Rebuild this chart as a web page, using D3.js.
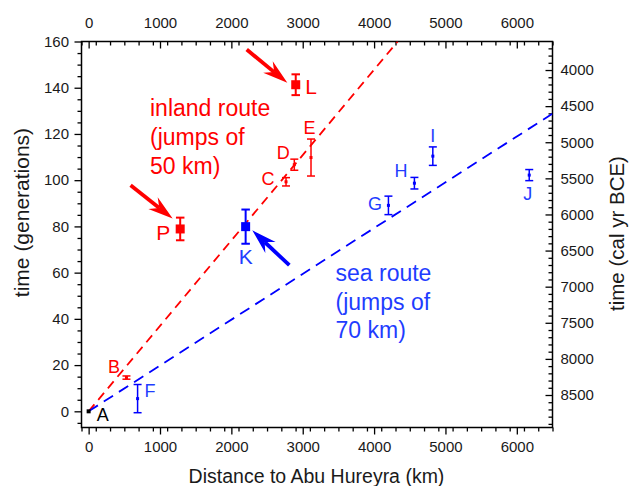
<!DOCTYPE html>
<html><head><meta charset="utf-8">
<script src="https://cdn.jsdelivr.net/npm/d3@7"></script>
<style>
html,body{margin:0;padding:0;background:#fff;}
svg{display:block;font-family:"Liberation Sans",Arial,Helvetica,sans-serif;}
</style>
</head><body>
<svg id="chart" width="629" height="486"></svg>
<script>
// ---- data ----
const kmTicks = [0, 1000, 2000, 3000, 4000, 5000, 6000];
const genTicks = [0, 20, 40, 60, 80, 100, 120, 140, 160];
const calTicks = [4000, 4500, 5000, 5500, 6000, 6500, 7000, 7500, 8000, 8500];

// origin site (Abu Hureyra)
const originLabel = ["A"];
const originKm = [0];
const originGen = [0];

// sites along the inland route
const inlandLabels = ["B", "C", "D", "E"];
const inlandKm = [530, 2766, 2882, 3116];
const inlandGen = [14.6, 99.3, 106.7, 109.8];
const inlandErr = [0.7, 1.8, 2.4, 8.0];

// sites along the sea route
const seaLabels = ["F", "G", "H", "I", "J"];
const seaKm = [686, 4201, 4565, 4823, 6174];
const seaGen = [5.5, 89.1, 98.7, 110.4, 102.2];
const seaErr = [6.1, 4.0, 2.5, 4.0, 2.4];

// highlighted sites
const keyLabels = ["L", "P", "K"];
const keyRoute = ["inland", "inland", "sea"];
const keyKm = [2902, 1283, 2200];
const keyGen = [141.3, 78.9, 79.9];
const keyErr = [4.5, 4.9, 7.4];

// front-speed lines
const inlandLineKm = [0, 4330];
const inlandLineGen = [0, 160];
const seaLineKm = [0, 6500];
const seaLineGen = [0, 128.8];

// pointer arrows (tail -> tip), in km / generations
const arrowRoute = ["inland", "inland", "sea"];
const arrowTailKm = [2215, 588, 2812];
const arrowTailGen = [156.5, 97.8, 63.2];
const arrowTipKm = [2784, 1177, 2293];
const arrowTipGen = [142.1, 83.4, 78.3];

// ---- layout / style ----
const RED = "#ff0000", BLUE = "#0000ff", BLUE_TXT = "#1f3dff";
const colorOf = r => r === "inland" ? RED : BLUE;
const plotL = 81.5, plotR = 552.5, plotT = 41.5, plotB = 427.5;

const svg = d3.select("#chart");
const x = d3.scaleLinear().domain([-100, 6500]).range([plotL, plotR]);
const y = d3.scaleLinear().domain([-7, 160]).range([plotB, plotT]);
const yCal = d3.scaleLinear().domain([8950, 3605]).range([plotB, plotT]);

svg.append("defs").append("clipPath").attr("id", "plot")
  .append("rect").attr("x", plotL).attr("y", plotT)
  .attr("width", plotR - plotL).attr("height", plotB - plotT);

// ---- axes ----
function styleAxis(g) {
  g.select(".domain").remove();
  g.selectAll("line").attr("stroke", "#000").attr("stroke-width", 1.3);
  g.selectAll("text").attr("fill", "#1a1a1a").attr("font-size", 15)
    .attr("font-family", "'Liberation Sans',Arial,sans-serif");
}
const kmMinor = d3.range(-100, 6501, 200).filter(v => v % 1000 !== 0);
const genMinor = d3.range(-5, 161, 5).filter(v => v % 20 !== 0);
const calMinor = d3.range(3700, 8951, 100).filter(v => v % 500 !== 0);

// bottom
svg.append("g").attr("transform", `translate(0,${plotB})`)
  .call(d3.axisBottom(x).tickValues(kmTicks).tickSize(7).tickPadding(7).tickFormat(d3.format("d")))
  .call(styleAxis);
svg.append("g").attr("transform", `translate(0,${plotB})`)
  .call(d3.axisBottom(x).tickValues(kmMinor).tickSize(4).tickFormat(""))
  .call(styleAxis);
// top (ticks inward)
svg.append("g").attr("transform", `translate(0,${plotT})`)
  .call(d3.axisTop(x).tickValues(kmTicks).tickSizeInner(-7).tickSizeOuter(0).tickPadding(13.2).tickFormat(d3.format("d")))
  .call(styleAxis);
svg.append("g").attr("transform", `translate(0,${plotT})`)
  .call(d3.axisTop(x).tickValues(kmMinor).tickSizeInner(-4).tickSizeOuter(0).tickFormat(""))
  .call(styleAxis);
// left
svg.append("g").attr("transform", `translate(${plotL},0)`)
  .call(d3.axisLeft(y).tickValues(genTicks).tickSize(7).tickPadding(5.5))
  .call(styleAxis);
svg.append("g").attr("transform", `translate(${plotL},0)`)
  .call(d3.axisLeft(y).tickValues(genMinor).tickSize(4).tickFormat(""))
  .call(styleAxis);
// right (ticks inward)
svg.append("g").attr("transform", `translate(${plotR},0)`)
  .call(d3.axisRight(yCal).tickValues(calTicks).tickSizeInner(-7).tickSizeOuter(0).tickPadding(8).tickFormat(d3.format("d")))
  .call(styleAxis);
svg.append("g").attr("transform", `translate(${plotR},0)`)
  .call(d3.axisRight(yCal).tickValues(calMinor).tickSizeInner(-4).tickSizeOuter(0).tickFormat(""))
  .call(styleAxis);

// frame
svg.append("rect").attr("x", plotL).attr("y", plotT)
  .attr("width", plotR - plotL).attr("height", plotB - plotT)
  .attr("fill", "none").attr("stroke", "#000").attr("stroke-width", 1.5);

// axis titles
svg.append("text").attr("x", 316.5).attr("y", 482.5).attr("text-anchor", "middle")
  .attr("font-size", 19.5).attr("fill", "#1a1a1a").text("Distance to Abu Hureyra (km)");
svg.append("text").attr("transform", "translate(28.5,212.5) rotate(-90)").attr("text-anchor", "middle")
  .attr("font-size", 21).attr("fill", "#1a1a1a").text("time (generations)");
svg.append("text").attr("transform", "translate(623.5,233.5) rotate(-90)").attr("text-anchor", "middle")
  .attr("font-size", 20.5).attr("fill", "#1a1a1a").text("time (cal yr BCE)");

// ---- dashed front lines ----
const plot = svg.append("g").attr("clip-path", "url(#plot)");
const line = d3.line().x(d => x(d[0])).y(d => y(d[1]));
plot.append("path").datum(d3.zip(inlandLineKm, inlandLineGen)).attr("d", line)
  .attr("fill", "none").attr("stroke", RED).attr("stroke-width", 1.8).attr("stroke-dasharray", "9,6");
plot.append("path").datum(d3.zip(seaLineKm, seaLineGen)).attr("d", line)
  .attr("fill", "none").attr("stroke", BLUE).attr("stroke-width", 1.8).attr("stroke-dasharray", "11,7");

// ---- error bars + markers ----
function errBars(km, gen, err, color, cap, sw, msize) {
  const g = svg.append("g");
  km.forEach((k, i) => {
    const cx = x(k), y0 = y(gen[i] - err[i]), y1 = y(gen[i] + err[i]);
    g.append("line").attr("x1", cx).attr("x2", cx).attr("y1", y0).attr("y2", y1)
      .attr("stroke", color).attr("stroke-width", sw);
    [y0, y1].forEach(yy => g.append("line").attr("x1", cx - cap / 2).attr("x2", cx + cap / 2)
      .attr("y1", yy).attr("y2", yy).attr("stroke", color).attr("stroke-width", sw));
    g.append("rect").attr("x", cx - msize / 2).attr("y", y(gen[i]) - msize / 2)
      .attr("width", msize).attr("height", msize).attr("fill", color);
  });
}
errBars(inlandKm, inlandGen, inlandErr, RED, 8, 1.5, 3);
errBars(seaKm, seaGen, seaErr, BLUE, 8, 1.5, 3);
keyKm.forEach((k, i) => errBars([k], [keyGen[i]], [keyErr[i]], colorOf(keyRoute[i]), 8.5, 2, 9));
// origin
svg.append("rect").attr("x", x(originKm[0]) - 2).attr("y", y(originGen[0]) - 2)
  .attr("width", 4).attr("height", 4).attr("fill", "#000");

// ---- arrows ----
function arrow(x0, y0, x1, y1, color) {
  const dx = x1 - x0, dy = y1 - y0, len = Math.hypot(dx, dy);
  const ux = dx / len, uy = dy / len, nx = -uy, ny = ux;
  const L = 25, W = 7.5, N = 17;
  svg.append("line").attr("x1", x0).attr("y1", y0)
    .attr("x2", x1 - ux * N).attr("y2", y1 - uy * N)
    .attr("stroke", color).attr("stroke-width", 3.8);
  const pts = [
    [x1, y1],
    [x1 - ux * L + nx * W, y1 - uy * L + ny * W],
    [x1 - ux * N, y1 - uy * N],
    [x1 - ux * L - nx * W, y1 - uy * L - ny * W]
  ];
  svg.append("path").attr("d", "M" + pts.map(p => p.join(",")).join("L") + "Z").attr("fill", color);
}
arrowRoute.forEach((r, i) => arrow(x(arrowTailKm[i]), y(arrowTailGen[i]),
  x(arrowTipKm[i]), y(arrowTipGen[i]), colorOf(r)));

// ---- point labels (offsets in px from the marker centre) ----
const labelOffsets = {
  A: [8, 9.7, "start", 18], B: [-18.5, -4.6, "start", 18], C: [-24.5, 3.5, "start", 18],
  D: [-17.5, -6, "start", 18], E: [-7.5, -24, "start", 18], F: [7, -1.6, "start", 18],
  G: [-20.5, 5, "start", 18], H: [-20, -6, "start", 18], I: [0, -14.2, "middle", 18],
  J: [-6, 25, "start", 18], K: [-7, 37.7, "start", 21], L: [9.5, 8.8, "start", 21],
  P: [-24, 10.6, "start", 21]
};
function labels(names, km, gen, color) {
  names.forEach((n, i) => {
    const o = labelOffsets[n];
    svg.append("text").attr("x", x(km[i]) + o[0]).attr("y", y(gen[i]) + o[1])
      .attr("text-anchor", o[2]).attr("font-size", o[3]).attr("fill", color).text(n);
  });
}
labels(originLabel, originKm, originGen, "#000");
labels(inlandLabels, inlandKm, inlandGen, RED);
labels(seaLabels, seaKm, seaGen, BLUE_TXT);
keyLabels.forEach((n, i) => labels([n], [keyKm[i]], [keyGen[i]],
  keyRoute[i] === "inland" ? RED : BLUE_TXT));

// ---- route annotations ----
function block(lines, x0, y0, color) {
  const t = svg.append("text").attr("font-size", 23).attr("fill", color);
  lines.forEach((s, i) => t.append("tspan").attr("x", x0).attr("y", y0 + i * 28.8).text(s));
}
block(["inland route", "(jumps of", "50 km)"], 150, 116, RED);
block(["sea route", "(jumps of", "70 km)"], 335.5, 280.7, BLUE_TXT);
</script>
</body></html>
